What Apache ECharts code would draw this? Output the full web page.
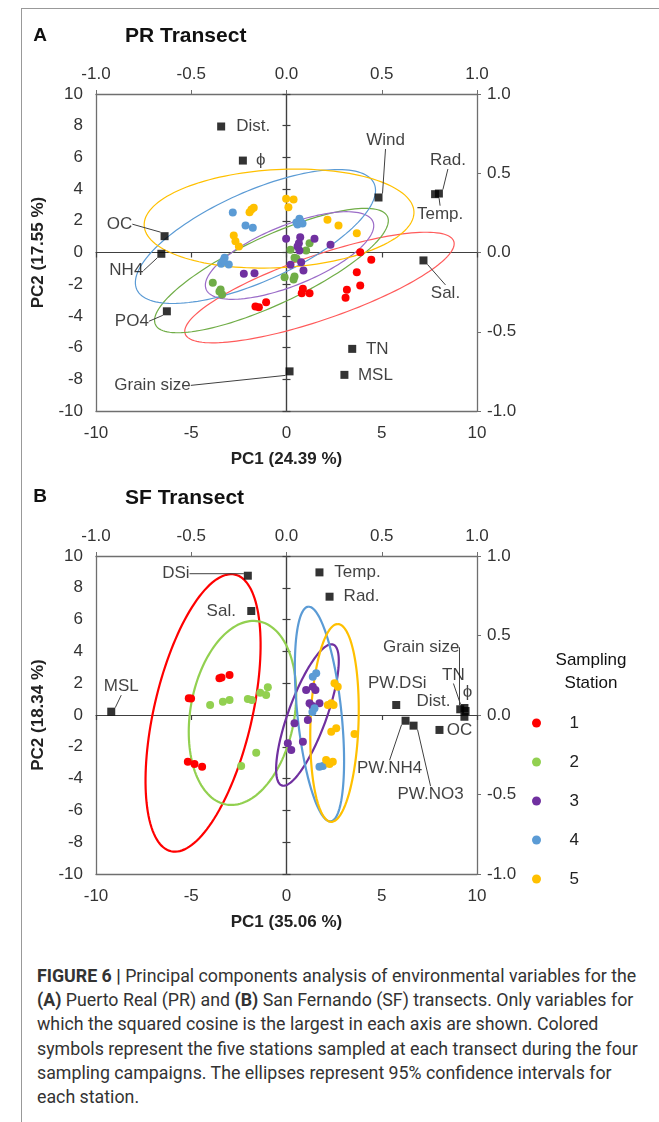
<!DOCTYPE html>
<html>
<head>
<meta charset="utf-8">
<script src="https://cdn.jsdelivr.net/npm/echarts@6/dist/echarts.min.js"></script>
<style>
html,body{margin:0;padding:0;background:#fff;}
#wrap{position:relative;width:659px;height:1122px;overflow:hidden;}
#frame{position:absolute;left:21px;top:8px;width:700px;height:1200px;border-left:1px solid #999;border-top:1px solid #999;}
#chart{position:absolute;left:0;top:0;width:659px;height:950px;}
#caption{position:absolute;left:37px;top:964px;font-family:'Roboto','Liberation Sans';font-size:17.8px;line-height:24.2px;color:#333;white-space:nowrap;}
</style>
</head>
<body>
<div id="wrap">
<div id="frame"></div>
<div id="chart"></div>
<div id="caption"><b>FIGURE 6 |</b> Principal components analysis of environmental variables for the<br><b>(A)</b> Puerto Real (PR) and <b>(B)</b> San Fernando (SF) transects. Only variables for<br>which the squared cosine is the largest in each axis are shown. Colored<br>symbols represent the five stations sampled at each transect during the four<br>sampling campaigns. The ellipses represent 95% confidence intervals for<br>each station.</div>
</div>
<script>
// PCA biplots, PR and SF transects

var stations = ['1', '2', '3', '4', '5'];
var colorsA = ['#ff0000', '#70ad47', '#7030a0', '#5b9bd5', '#ffc000'];
var colorsB = ['#ff0000', '#92d050', '#7030a0', '#5b9bd5', '#ffc000'];

// PR transect scores [PC1, PC2]
var prSt1 = [[0.86,-2.29],[0.80,-2.57],[1.21,-2.57],[-1.07,-3.14],[-1.63,-3.41],[-1.45,-3.45],[3.87,0.02],[4.45,-0.46],[3.69,-1.24],[3.87,-2.08],[3.17,-2.35],[3.10,-2.86]];
var prSt2 = [[0.21,0.17],[0.42,-0.33],[1.03,0.13],[1.21,0.59],[-0.10,-1.56],[0.42,-1.51],[-3.87,-1.91],[-3.46,-2.33],[-3.38,-2.65],[0.37,-1.70],[-3.52,-2.46],[0.52,-0.38]];
var prSt3 = [[-0.02,0.86],[0.72,0.97],[0.65,0.59],[0.68,0.13],[1.47,0.86],[2.31,0.49],[0.77,-0.61],[0.21,-0.78],[0.89,-1.14],[-2.24,-1.34],[-1.68,-1.31],[0.58,0.38]];
var prSt4 = [[-2.82,2.52],[-2.15,1.70],[-1.77,1.56],[0.52,1.89],[0.68,2.13],[0.84,1.83],[0.58,1.77],[0.73,1.96],[-3.25,-0.33],[-3.43,-0.71],[-3.03,-0.76],[-3.31,-0.50]];
var prSt5 = [[-0.02,3.39],[0.37,3.34],[0.10,2.86],[-1.94,2.54],[-1.72,2.82],[-1.84,2.71],[2.15,2.06],[2.73,1.70],[3.69,1.22],[-2.77,1.07],[-2.68,0.71],[-2.50,0.38]];

// SF transect scores [PC1, PC2]
var sfSt1 = [[-3.52,2.31],[-3.41,2.36],[-2.99,2.52],[-5.13,1.05],[-5.01,1.04],[-5.18,-2.94],[-4.83,-3.08],[-4.43,-3.25]];
var sfSt2 = [[-4.01,0.63],[-3.34,0.84],[-2.99,0.94],[-2.03,1.01],[-1.82,0.94],[-1.38,1.40],[-1.07,1.26],[-0.98,1.74],[-1.59,-2.37],[-2.38,-3.21]];
var sfSt3 = [[1.38,1.78],[1.03,1.57],[1.52,1.57],[1.21,0.74],[1.73,0.74],[1.36,0.57],[0.42,-0.52],[1.12,-0.31],[0.07,-1.78],[0.86,-1.68],[0.25,-2.20]];
var sfSt4 = [[1.56,2.62],[1.38,2.41],[1.47,0.42],[1.36,0.19],[1.73,-3.25],[1.91,-3.21]];
var sfSt5 = [[2.52,1.99],[2.69,1.78],[2.35,0.74],[2.17,0.63],[2.47,0.63],[2.35,-1.05],[2.61,-0.84],[3.57,-1.19],[2.08,-2.83],[2.43,-2.94],[2.26,-3.08]];

// variable loadings (secondary axes, -1..1)
var prVarNames = ['Dist.', 'ϕ', 'Wind', 'Rad.', 'Temp.', 'OC', 'NH4', 'PO4', 'Sal.', 'TN', 'MSL', 'Grain size'];
var prVarLoad = [[-0.343,0.795],[-0.229,0.580],[0.483,0.347],[0.800,0.372],[0.780,0.368],[-0.640,0.103],[-0.657,-0.008],[-0.628,-0.371],[0.719,-0.050],[0.345,-0.608],[0.304,-0.772],[0.016,-0.750]];
var sfVarNames = ['DSi', 'Sal.', 'MSL', 'Temp.', 'Rad.', 'PW.DSi', 'Grain size', 'TN', 'ϕ', 'Dist.', 'OC', 'PW.NH4', 'PW.NO3'];
var sfVarLoad = [[-0.203,0.876],[-0.185,0.654],[-0.920,0.021],[0.173,0.897],[0.226,0.744],[0.576,0.063],[0.912,0.036],[0.934,0.044],[0.940,0.025],[0.934,-0.011],[0.803,-0.094],[0.625,-0.036],[0.667,-0.067]];

// 95% ellipses: [cx, cy, ux, uy, vx, vy] (centre + two conjugate semi-axes, PC units)
var prEllipses = [[1.73,-2.21,7.05,2.92,-0.55,1.91],[-0.79,-1.14,6.09,3.41,-0.75,1.94],[0.16,-0.19,4.38,2.13,-0.59,1.76],[-1.63,1.01,6.23,3.34,-0.96,2.59],[-0.39,2.14,7.08,0.45,-0.14,3.09]];
var sfEllipses = [[-4.38,0.13,1.68,8.70,-2.51,0.69],[-2.31,0.13,0.85,5.76,-2.69,0.57],[1.10,0.00,1.35,4.43,-0.94,0.41],[1.73,0.06,-0.59,6.75,-1.15,-0.14],[2.52,-0.50,0.18,6.22,-1.26,0.05]];

// label placement: [dx, dy, leader]
var prLabelPos = {'Dist.':[32,0,0], 'ϕ':[18,0,0], 'Wind':[7,-57,1], 'Rad.':[9,-33,1], 'Temp.':[5,20,1], 'OC':[-45,-12,1], 'NH4':[-35,17,1], 'PO4':[-35,10,1], 'Sal.':[22,33,1], 'TN':[25,0,0], 'MSL':[31,0,0], 'Grain size':[-137,14,1]};
var sfLabelPos = {'DSi':[-72,-2,1], 'Sal.':[-30,0,0], 'MSL':[10,-25,1], 'Temp.':[38,0,0], 'Rad.':[32,0,0], 'PW.DSi':[1,-22,0], 'Grain size':[-39,-62,1], 'TN':[-11,-33,1], 'ϕ':[2,-19,0], 'Dist.':[-31,-15,0], 'OC':[20,0,0], 'PW.NH4':[-16,48,1], 'PW.NO3':[17,69,1]};

var FONT = "'Liberation Sans', Arial, sans-serif";
var tickFont = {fontSize: 17, color: '#333', fontFamily: FONT};

function scoreSeries(name, data, color, xi, yi) {
	return {
		name: name, type: 'scatter', xAxisIndex: xi, yAxisIndex: yi,
		symbolSize: 8, itemStyle: {color: color, opacity: 1}, z: 4, data: data
	};
}

function ellipseSeries(params, colors, width, xi, yi) {
	return {
		type: 'custom', xAxisIndex: xi, yAxisIndex: yi, z: 2, silent: true,
		encode: {x: 0, y: 1},
		data: params,
		renderItem: function (prm, api) {
			var cx = api.value(0), cy = api.value(1);
			var ux = api.value(2), uy = api.value(3), vx = api.value(4), vy = api.value(5);
			var pts = [];
			for (var k = 0; k <= 144; k++) {
				var t = k / 144 * 2 * Math.PI;
				pts.push(api.coord([cx + ux * Math.cos(t) + vx * Math.sin(t), cy + uy * Math.cos(t) + vy * Math.sin(t)]));
			}
			return {type: 'polyline', shape: {points: pts}, style: {fill: 'none', stroke: colors[prm.dataIndex], lineWidth: width}};
		}
	};
}

function varSeries(names, load, pos, xi, yi) {
	return {
		type: 'scatter', xAxisIndex: xi, yAxisIndex: yi, symbol: 'rect', symbolSize: 8, z: 5,
		itemStyle: {color: '#000'},
		data: names.map(function (n, i) {
			return {name: n, value: load[i], labelLine: {show: pos[n][2] === 1}};
		}),
		label: {show: true, formatter: '{b}', fontSize: 17, color: '#111', fontFamily: FONT},
		labelLine: {show: false, lineStyle: {color: '#404040', width: 1}},
		labelLayout: function (p) {
			var o = pos[names[p.dataIndex]];
			return {x: p.rect.x + p.rect.width / 2 + o[0], y: p.rect.y + p.rect.height / 2 + o[1], align: 'center', verticalAlign: 'middle'};
		}
	};
}

function gridAxes(gi, xBase, yBase, xName, yName) {
	var boxLine = {onZero: false, lineStyle: {color: '#6f6f6f', width: 1.3}};
	var zeroLine = {color: '#404040', width: 1.2};
	var xs = [
		{gridIndex: gi, type: 'value', position: 'bottom', min: -10, max: 10, interval: 5,
			axisLine: boxLine, axisTick: {show: false}, splitLine: {show: false},
			axisLabel: Object.assign({margin: 14}, tickFont),
			name: xName, nameLocation: 'middle', nameGap: 40,
			nameTextStyle: {fontWeight: 'bold', fontSize: 17, color: '#222', fontFamily: FONT}},
		{gridIndex: gi, type: 'value', position: 'top', min: -1, max: 1, interval: 0.5,
			axisLine: boxLine, axisTick: {show: true, inside: false, length: 4, lineStyle: {color: '#6f6f6f'}},
			splitLine: {show: false},
			axisLabel: Object.assign({margin: 11, formatter: function (v) { return v.toFixed(1); }}, tickFont)},
		{gridIndex: gi, type: 'value', position: 'bottom', min: -10, max: 10, interval: 5,
			axisLine: {onZero: true, onZeroAxisIndex: yBase, lineStyle: zeroLine},
			axisTick: {show: true, inside: false, length: 5, lineStyle: zeroLine},
			axisLabel: {show: false}, splitLine: {show: false}}
	];
	var ys = [
		{gridIndex: gi, type: 'value', position: 'left', min: -10, max: 10, interval: 2,
			axisLine: boxLine, axisTick: {show: false}, splitLine: {show: false},
			axisLabel: Object.assign({margin: 13}, tickFont),
			name: yName, nameLocation: 'middle', nameGap: 49, nameRotate: 90,
			nameTextStyle: {fontWeight: 'bold', fontSize: 17, color: '#222', fontFamily: FONT}},
		{gridIndex: gi, type: 'value', position: 'right', min: -1, max: 1, interval: 0.5,
			axisLine: boxLine, axisTick: {show: true, inside: false, length: 4, lineStyle: {color: '#6f6f6f'}},
			splitLine: {show: false},
			axisLabel: Object.assign({margin: 10, formatter: function (v) { return v.toFixed(1); }}, tickFont)},
		{gridIndex: gi, type: 'value', position: 'left', min: -10, max: 10, interval: 2,
			axisLine: {onZero: true, onZeroAxisIndex: xBase, lineStyle: zeroLine},
			axisTick: {show: true, inside: true, length: 4, lineStyle: zeroLine},
			axisLabel: {show: false}, splitLine: {show: false}},
		{gridIndex: gi, type: 'value', position: 'left', min: -10, max: 10, interval: 2,
			axisLine: {onZero: true, onZeroAxisIndex: xBase, lineStyle: zeroLine},
			axisTick: {show: true, inside: false, length: 4, lineStyle: zeroLine},
			axisLabel: {show: false}, splitLine: {show: false}}
	];
	return {x: xs, y: ys};
}

var axA = gridAxes(0, 0, 0, 'PC1 (24.39 %)', 'PC2 (17.55 %)');
var axB = gridAxes(1, 3, 4, 'PC1 (35.06 %)', 'PC2 (18.34 %)');

var prScores = [prSt1, prSt2, prSt3, prSt4, prSt5];
var sfScores = [sfSt1, sfSt2, sfSt3, sfSt4, sfSt5];

var series = [];
series.push(ellipseSeries(prEllipses, ['#ff5b5b', '#70ad47', '#9b6cc8', '#5b9bd5', '#ffc000'], 1.2, 0, 0));
series.push(ellipseSeries(sfEllipses, colorsB, 2.2, 3, 4));
for (var i = 0; i < stations.length; i++) {
	series.push(scoreSeries(stations[i], sfScores[i], colorsB[i], 3, 4));
	series.push(scoreSeries(stations[i], prScores[i], colorsA[i], 0, 0));
}
series.push(varSeries(prVarNames, prVarLoad, prLabelPos, 1, 1));
series.push(varSeries(sfVarNames, sfVarLoad, sfLabelPos, 4, 5));

function label(x, y, s, size, bold, align) {
	return {type: 'text', x: x, y: y, style: {text: s, fontSize: size, fontWeight: bold ? 'bold' : 'normal',
		fill: '#111', fontFamily: FONT, align: align, verticalAlign: 'middle'}};
}

var myChart = echarts.init(document.getElementById('chart'));
var option = {
	animation: false,
	textStyle: {fontFamily: FONT},
	grid: [
		{left: 96, top: 94, width: 381, height: 317, outerBoundsMode: 'none'},
		{left: 96, top: 556, width: 381, height: 318, outerBoundsMode: 'none'}
	],
	xAxis: axA.x.concat(axB.x),
	yAxis: axA.y.concat(axB.y),
	legend: {
		orient: 'vertical', left: 527, top: 709, itemWidth: 56, itemHeight: 9, itemGap: 21,
		icon: 'circle', selectedMode: false,
		textStyle: {fontSize: 17, lineHeight: 18, color: '#222', fontFamily: FONT},
		data: stations.map(function (s, i) { return {name: s, itemStyle: {color: colorsB[i]}}; })
	},
	graphic: [
		label(40, 36, 'A', 19, true, 'center'),
		label(125, 36, 'PR Transect', 21, true, 'left'),
		label(40, 497, 'B', 19, true, 'center'),
		label(125, 498, 'SF Transect', 21, true, 'left'),
		label(591, 660, 'Sampling', 17, false, 'center'),
		label(591, 683, 'Station', 17, false, 'center')
	],
	series: series
};
option && myChart.setOption(option);
</script>
</body>
</html>
